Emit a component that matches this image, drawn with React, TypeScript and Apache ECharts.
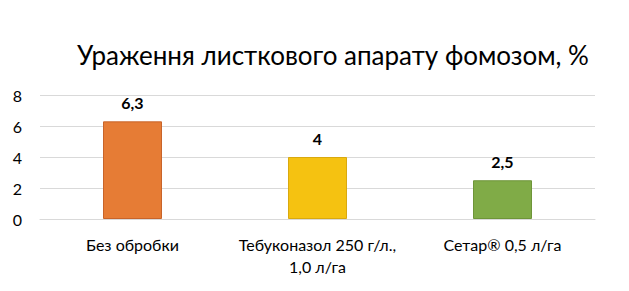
import React, { useEffect, useRef } from "react";
import * as echarts from "echarts";

const categories = ["Без обробки", "Тебуконазол 250 г/л.,\n1,0 л/га", "Сетар® 0,5 л/га"];
const values = [6.3, 4, 2.5];
const labels = ["6,3", "4", "2,5"];
const colors = ["#E67C35", "#F5C211", "#80AB47"];
const borders = ["#C8642A", "#D9A90F", "#6E9539"];

export default function App() {
  const ref = useRef<HTMLDivElement>(null);
  useEffect(() => {
    const chart = echarts.init(ref.current!, null, { renderer: "svg" });
    const font = "Lato, sans-serif";
    chart.setOption({
      animation: false,
      title: {
        text: "Ураження листкового апарату фомозом, %",
        left: 328,
        textAlign: "center",
        top: 37,
        textStyle: { fontFamily: font, fontSize: 26, fontWeight: "normal", color: "#000" },
      },
      grid: { left: 40, right: 34, top: 95, bottom: 72 },
      xAxis: {
        type: "category",
        data: categories,
        axisLine: { lineStyle: { color: "#d9d9d9" } },
        axisTick: { show: false },
        axisLabel: { interval: 0, fontFamily: font, fontSize: 16, color: "#000", margin: 14, lineHeight: 22 },
      },
      yAxis: {
        type: "value",
        min: 0,
        max: 8,
        interval: 2,
        axisLine: { show: false },
        axisTick: { show: false },
        splitLine: { lineStyle: { color: "#d9d9d9" } },
        axisLabel: { fontFamily: font, fontSize: 16, color: "#000", margin: 18 },
      },
      series: [
        {
          type: "bar",
          barWidth: 59,
          data: values.map((v, i) => ({
            value: v,
            itemStyle: { color: colors[i], borderColor: borders[i], borderWidth: 1 },
            label: { formatter: labels[i] },
          })),
          label: {
            show: true,
            position: "top",
            distance: 11,
            fontFamily: font,
            fontSize: 16,
            fontWeight: "bold",
            color: "#000",
          },
        },
      ],
    });
    return () => chart.dispose();
  }, []);
  return <div ref={ref} style={{ width: 629, height: 291, position: "absolute", left: 0, top: 0 }} />;
}
